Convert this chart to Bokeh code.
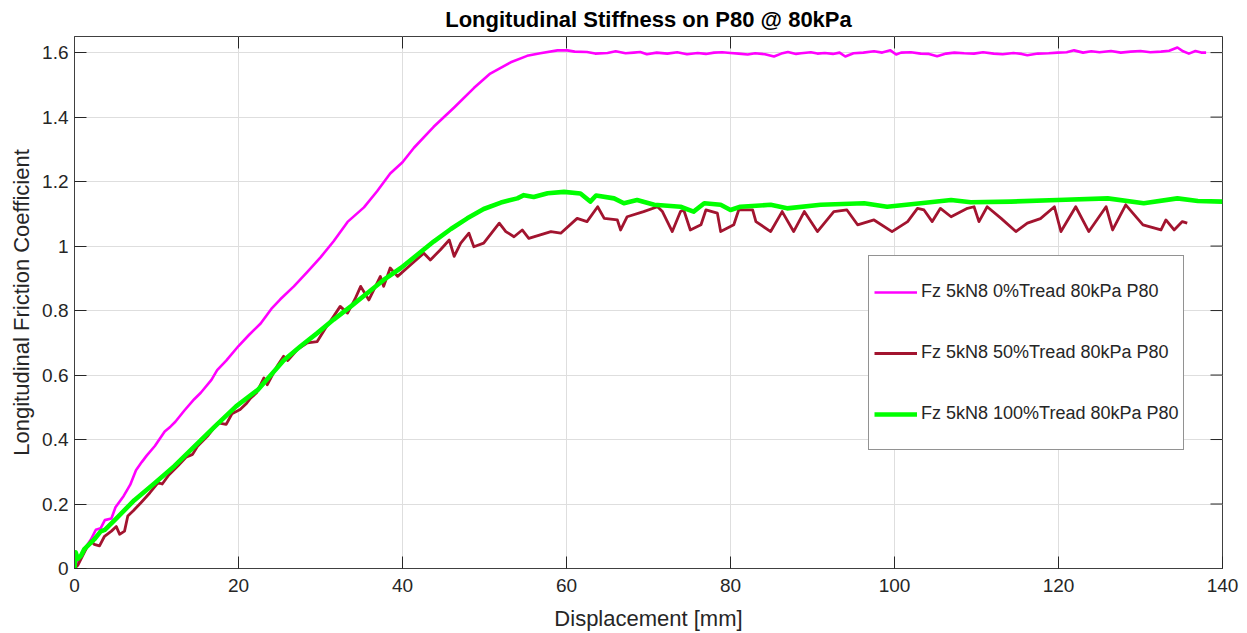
from bokeh.plotting import figure
from bokeh.models import (ColumnDataSource, Legend, LegendItem,
                          FixedTicker, Range1d, Title)
from bokeh.embed import file_html
from bokeh.resources import INLINE

# ---------------- data ----------------
title_text = "Longitudinal Stiffness on P80 @ 80kPa"
x_label = "Displacement [mm]"
y_label = "Longitudinal Friction Coefficient"

x_ticks = [0, 20, 40, 60, 80, 100, 120, 140]
x_tick_labels = ["0", "20", "40", "60", "80", "100", "120", "140"]
y_ticks = [0, 0.2, 0.4, 0.6, 0.8, 1.0, 1.2, 1.4, 1.6]
y_tick_labels = ["0", "0.2", "0.4", "0.6", "0.8", "1", "1.2", "1.4", "1.6"]

series_names = ["Fz 5kN8 0%Tread 80kPa P80",
                "Fz 5kN8 50%Tread 80kPa P80",
                "Fz 5kN8 100%Tread 80kPa P80"]

tread0_x = [0, 0.5, 1.2, 2.0, 2.6, 3.2, 3.7, 4.5, 5.0, 6.0, 6.8, 7.5, 8.2, 8.8,
            9.8, 11.0, 11.7, 12.3, 13.4, 14.6, 15.4, 16.7, 17.4, 18.5, 20.0,
            21.3, 22.7, 24.0, 25.1, 26.75, 28.4, 30.0, 31.6, 33.3, 35.3, 36.9,
            38.5, 40.0, 41.4, 43.8, 46.3, 48.7, 50.7, 53.2, 55.2, 56.8, 58.9,
            60.1, 61.0, 62.5, 63.5, 65.0, 66.0, 67.2, 68.2, 69.0, 69.8, 71.0,
            72.3, 73.5, 74.7, 76.0, 77.0, 78.0, 79.0, 80.0, 81.0, 82.1, 83.0,
            84.2, 85.3, 86.2, 87.0, 88.0, 88.6, 89.8, 90.6, 91.5, 92.5, 93.3,
            94.0, 95.0, 96.2, 97.5, 98.5, 99.5, 100.2, 100.8, 102.0, 103.2,
            104.2, 105.2, 106.3, 107.3, 108.5, 109.7, 110.8, 112.1, 113.2,
            114.5, 115.5, 116.2, 117.5, 118.8, 119.9, 121.0, 121.9, 123.0,
            124.0, 125.0, 126.4, 127.6, 128.8, 130.0, 131.2, 132.5, 133.5,
            134.5, 135.2, 135.9, 136.7, 137.4, 138.0]
tread0_y = [0, 0.03, 0.06, 0.09, 0.12, 0.125, 0.15, 0.155, 0.19, 0.225, 0.26,
            0.305, 0.33, 0.35, 0.38, 0.425, 0.44, 0.455, 0.49, 0.525, 0.545,
            0.585, 0.615, 0.645, 0.69, 0.725, 0.76, 0.805, 0.835, 0.875, 0.92,
            0.965, 1.015, 1.075, 1.12, 1.17, 1.225, 1.26, 1.305, 1.37, 1.43,
            1.49, 1.535, 1.57, 1.59, 1.598, 1.607,
            1.607, 1.603, 1.602, 1.597, 1.599, 1.604, 1.598, 1.600, 1.602,
            1.595, 1.600, 1.597, 1.601, 1.595, 1.599, 1.596, 1.600, 1.601,
            1.599, 1.597, 1.594, 1.598, 1.595, 1.588, 1.597, 1.602, 1.596,
            1.598, 1.601, 1.597, 1.599, 1.596, 1.600, 1.588, 1.598, 1.600,
            1.604, 1.600, 1.607, 1.594, 1.600, 1.601, 1.597, 1.596, 1.589,
            1.597, 1.600, 1.598, 1.597, 1.601, 1.597, 1.595, 1.599, 1.596,
            1.592, 1.597, 1.598, 1.600, 1.601, 1.607, 1.600, 1.604, 1.601,
            1.605, 1.600, 1.603, 1.605, 1.601, 1.603, 1.606, 1.616, 1.604,
            1.597, 1.605, 1.600, 1.600]

tread50_x = [0, 0.4, 1.0, 1.6, 2.0, 2.4, 3.05, 3.66, 4.5, 5.1, 5.5, 6.1, 6.5,
             7.2, 8.1, 9.2, 10.2, 10.7, 11.5, 12.6, 13.6, 14.4, 15.0, 16.2,
             17.5, 18.5, 19.2, 20.2, 20.9, 21.5, 22.2, 23.1, 23.5, 24.7, 25.5,
             26.0, 27.2, 28.4, 29.6, 30.6, 31.6, 32.4, 33.3, 34.2, 34.9, 35.9,
             37.3, 37.7, 38.5, 39.4, 41.0, 42.6, 43.4, 44.6, 45.7, 46.3, 47.1,
             48.1, 48.7, 49.9, 51.8, 52.6, 53.6, 54.6, 55.4, 56.8, 58.1, 59.3,
             61.3, 62.5, 63.8, 64.6, 66.2, 66.6, 67.4, 69.4, 71.1, 71.7, 72.9,
             73.9, 74.3, 75.1, 76.4, 77.0, 78.4, 78.8, 80.4, 81.0, 82.7, 83.1,
             84.9, 86.3, 87.7, 89.0, 90.6, 92.6, 94.2, 95.5, 97.5, 99.7, 101.6,
             102.8, 103.6, 104.6, 105.6, 106.9, 108.9, 109.7, 110.3, 111.3,
             113.0, 114.8, 116.2, 117.8, 119.5, 120.3, 122.1, 123.7, 125.8,
             126.6, 128.2, 130.3, 132.5, 133.1, 134.1, 135.1, 135.7]
tread50_y = [0, 0.01, 0.04, 0.07, 0.085, 0.075, 0.07, 0.10, 0.116, 0.13, 0.106,
             0.116, 0.163, 0.18, 0.204, 0.235, 0.266, 0.262, 0.29, 0.318,
             0.345, 0.354, 0.379, 0.41, 0.452, 0.447, 0.48, 0.493, 0.51, 0.529,
             0.545, 0.591, 0.570, 0.627, 0.658, 0.645, 0.68, 0.70, 0.704,
             0.745, 0.782, 0.813, 0.792, 0.835, 0.875, 0.833, 0.906, 0.875,
             0.932, 0.906, 0.942, 0.978, 0.957, 0.988, 1.019, 0.968, 1.009,
             1.040, 0.998, 1.009, 1.071, 1.045, 1.029, 1.050, 1.024, 1.035,
             1.045, 1.040, 1.086, 1.076, 1.122, 1.086, 1.081, 1.050, 1.091,
             1.107, 1.122, 1.107, 1.045, 1.107, 1.112, 1.050, 1.066, 1.112,
             1.102, 1.045, 1.066, 1.112, 1.112, 1.076, 1.045, 1.107, 1.045,
             1.107, 1.045, 1.107, 1.112, 1.066, 1.081, 1.045, 1.076, 1.117,
             1.112, 1.076, 1.117, 1.091, 1.117, 1.122, 1.076, 1.122, 1.086,
             1.045, 1.071, 1.085, 1.122, 1.045, 1.122, 1.045, 1.122, 1.050,
             1.128, 1.066, 1.050, 1.081, 1.050, 1.076, 1.071]

tread100_x = [0, 0.15, 0.4, 0.8, 1.2, 2.4, 3.2, 3.7, 4.9, 7.3, 9.8, 12.2, 14.6,
              17.1, 19.7, 22.4, 25.5, 27.6, 29.6, 31.6, 33.7, 35.5, 37.7, 39.8,
              41.8, 43.8, 45.9, 47.9, 49.9, 52.0, 54.0, 54.8, 56.0, 57.7, 59.7,
              61.7, 62.9, 63.6, 65.8, 67.0, 68.6, 70.7, 73.9, 75.5, 76.8, 78.8,
              80.0, 81.2, 84.9, 86.9, 91.0, 96.3, 99.1, 103.2, 106.9, 109.3,
              114.2, 119.9, 126.0, 130.4, 134.5, 137.0, 140.0]
tread100_y = [0, 0.05, 0.03, 0.04, 0.06, 0.09, 0.115, 0.12, 0.15, 0.212, 0.265,
              0.318, 0.378, 0.44, 0.503, 0.555, 0.645, 0.69, 0.73, 0.772,
              0.813, 0.85, 0.895, 0.932, 0.973, 1.014, 1.053, 1.086, 1.115,
              1.135, 1.148, 1.158, 1.152, 1.164, 1.168, 1.163, 1.138, 1.157,
              1.148, 1.133, 1.143, 1.128, 1.122, 1.107, 1.133, 1.128, 1.112,
              1.122, 1.128, 1.117, 1.128, 1.133, 1.122, 1.133, 1.143, 1.136,
              1.138, 1.143, 1.148, 1.133, 1.148, 1.140, 1.138]

colors = ["#FF00FF", "#A2142F", "#00FF00"]
widths = [2.6, 2.8, 4.6]

# ---------------- figure ----------------
FONT = "Liberation Sans"
TXT = "#262626"
X0, X1, Y0, Y1 = 0, 140, 0, 1.65

p = figure(width=1247, height=633, output_backend="svg", toolbar_location=None,
           x_range=Range1d(X0, X1), y_range=Range1d(Y0, Y1),
           min_border_left=74, min_border_right=25, min_border_top=36,
           min_border_bottom=64)
p.background_fill_color = "white"
p.border_fill_color = "white"
p.outline_line_color = "#404040"
p.outline_line_width = 1

p.title = Title(text=title_text, align="center", text_font=FONT,
                text_font_size="22px", text_font_style="bold",
                text_color="black", standoff=9, offset=0)

p.xaxis.ticker = FixedTicker(ticks=x_ticks)
p.yaxis.ticker = FixedTicker(ticks=y_ticks)
p.xaxis.major_label_overrides = {float(t): l for t, l in zip(x_ticks, x_tick_labels)}
p.yaxis.major_label_overrides = {float(t): l for t, l in zip(y_ticks, y_tick_labels)}
p.xaxis.axis_label = x_label
p.yaxis.axis_label = y_label

for ax in [p.xaxis[0], p.yaxis[0]]:
    ax.axis_line_color = "#404040"
    ax.major_tick_line_color = "#262626"
    ax.major_tick_in = 12
    ax.major_tick_out = 0
    ax.minor_tick_line_color = None
    ax.major_label_text_font = FONT
    ax.major_label_text_font_size = "19px"
    ax.major_label_text_color = TXT
    ax.axis_label_text_font = FONT
    ax.axis_label_text_font_size = "22px"
    ax.axis_label_text_font_style = "normal"
    ax.axis_label_text_color = TXT
p.xaxis.major_label_standoff = 10
p.xaxis.axis_label_standoff = 11
p.yaxis.major_label_standoff = 6
p.yaxis.axis_label_standoff = 5

p.xgrid.ticker = FixedTicker(ticks=x_ticks)
p.ygrid.ticker = FixedTicker(ticks=y_ticks)
p.xgrid.grid_line_color = "#dedede"
p.ygrid.grid_line_color = "#dedede"
p.xgrid.grid_line_width = 1
p.ygrid.grid_line_width = 1

# inward tick marks on the top and right edges of the box (12 px long)
tick_dy = 12 * (Y1 - Y0) / 533.0
tick_dx = 12 * (X1 - X0) / 1148.0
p.segment(x0=x_ticks, y0=[Y1] * len(x_ticks), x1=x_ticks,
          y1=[Y1 - tick_dy] * len(x_ticks), line_color="#262626", line_width=1)
p.segment(x0=[X1] * len(y_ticks), y0=y_ticks, x1=[X1 - tick_dx] * len(y_ticks),
          y1=y_ticks, line_color="#262626", line_width=1)

renderers = []
for xs, ys, c, w in [(tread0_x, tread0_y, colors[0], widths[0]),
                     (tread50_x, tread50_y, colors[1], widths[1]),
                     (tread100_x, tread100_y, colors[2], widths[2])]:
    src = ColumnDataSource(data=dict(x=xs, y=ys))
    r = p.line("x", "y", source=src, line_color=c, line_width=w,
               line_join="round")
    renderers.append(r)

legend = Legend(items=[LegendItem(label=n, renderers=[r])
                       for n, r in zip(series_names, renderers)],
                location=(794, 118))
legend.label_text_font = FONT
legend.label_text_font_size = "18px"
legend.label_text_color = TXT
legend.label_height = 61
legend.glyph_height = 20
legend.glyph_width = 43
legend.label_standoff = 4
legend.spacing = 0
legend.padding = 5
legend.margin = 0
legend.border_line_color = "#262626"
legend.border_line_width = 1
legend.background_fill_color = "white"
legend.background_fill_alpha = 1
p.add_layout(legend, "center")

open("out.html", "w").write(file_html(p, INLINE))
